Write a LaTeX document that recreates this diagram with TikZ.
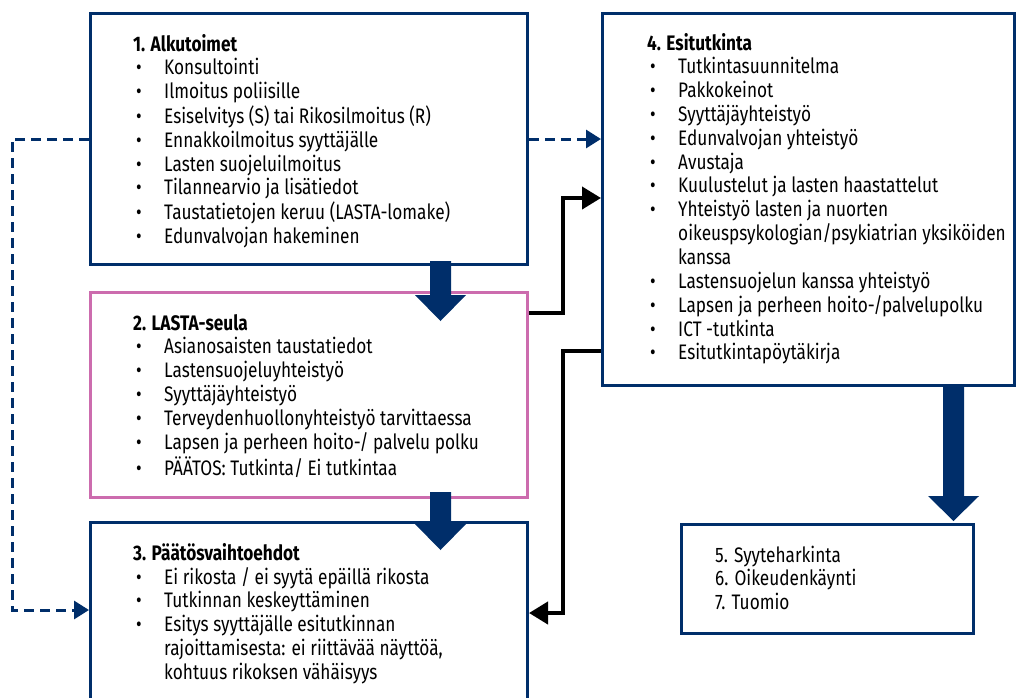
\documentclass[tikz,border=0pt]{standalone}
\usepackage{fontspec}
\setmainfont[FakeStretch=0.82]{Fira Sans}
\usetikzlibrary{arrows.meta}
\definecolor{navy}{RGB}{0,46,106}
\definecolor{pinkb}{RGB}{204,108,174}
\newcommand\bu{\makebox[31pt][l]{\hspace{3pt}\textbullet}}
\newcommand\sk{\makebox[31pt][l]{}}
\begin{document}
\begin{tikzpicture}[x=1pt,y=-1pt,
  box/.style={draw=navy,line width=3pt,minimum width=437pt,anchor=north west,inner sep=0pt},
  pinkbox/.style={box,draw=pinkb},
  txt/.style={anchor=base west,inner sep=0pt,font=\fontsize{21}{23.8}\selectfont},
  dashline/.style={draw=navy,line width=3pt,dash pattern=on 10pt off 6pt,-{Triangle[length=15pt,width=18pt]}},
  blackline/.style={draw=black,line width=4pt,-{Triangle[length=19pt,width=22pt]}},
  blockarrow/.style={fill=navy}]
\clip (0,0) rectangle (1029,697);
% boxes
\node[box,minimum height=251pt] (b1) at (89,12) {};
\node[pinkbox,minimum height=205pt] (b2) at (89,291) {};
\node[box,minimum height=220pt] (b3) at (89,521) {};
\node[box,minimum width=412pt,minimum height=372pt] (b4) at (601,12) {};
\node[box,minimum width=292pt,minimum height=109pt] (b5) at (680,523) {};
% texts
\node[txt] (t1) at (133,51) {\begin{tabular}[t]{@{}l@{}l@{}}
\multicolumn{2}{@{}l@{}}{\bfseries 1. Alkutoimet}\\
\bu & Konsultointi\\
\bu & Ilmoitus poliisille\\
\bu & Esiselvitys (S) tai Rikosilmoitus (R)\\
\bu & Ennakkoilmoitus syyttäjälle\\
\bu & Lasten suojeluilmoitus\\
\bu & Tilannearvio ja lisätiedot\\
\bu & Taustatietojen keruu (LASTA-lomake)\\
\bu & Edunvalvojan hakeminen
\end{tabular}};
\node[txt] (t2) at (133,330) {\begin{tabular}[t]{@{}l@{}l@{}}
\multicolumn{2}{@{}l@{}}{\bfseries 2. LASTA-seula}\\
\bu & Asianosaisten taustatiedot\\
\bu & Lastensuojeluyhteistyö\\
\bu & Syyttäjäyhteistyö\\
\bu & Terveydenhuollonyhteistyö tarvittaessa\\
\bu & Lapsen ja perheen hoito-/ palvelu polku\\
\bu & PÄÄTOS: Tutkinta/ Ei tutkintaa
\end{tabular}};
\node[txt] (t3) at (133,560) {\begin{tabular}[t]{@{}l@{}l@{}}
\multicolumn{2}{@{}l@{}}{\bfseries 3. Päätösvaihtoehdot}\\
\bu & Ei rikosta / ei syytä epäillä rikosta\\
\bu & Tutkinnan keskeyttäminen\\
\bu & Esitys syyttäjälle esitutkinnan\\
\sk & rajoittamisesta: ei riittävää näyttöä,\\
\sk & kohtuus rikoksen vähäisyys
\end{tabular}};
\node[txt] (t4) at (647,50) {\begin{tabular}[t]{@{}l@{}l@{}}
\multicolumn{2}{@{}l@{}}{\bfseries 4. Esitutkinta}\\
\bu & Tutkintasuunnitelma\\
\bu & Pakkokeinot\\
\bu & Syyttäjäyhteistyö\\
\bu & Edunvalvojan yhteistyö\\
\bu & Avustaja\\
\bu & Kuulustelut ja lasten haastattelut\\
\bu & Yhteistyö lasten ja nuorten\\
\sk & oikeuspsykologian/psykiatrian yksiköiden\\
\sk & kanssa\\
\bu & Lastensuojelun kanssa yhteistyö\\
\bu & Lapsen ja perheen hoito-/palvelupolku\\
\bu & ICT -tutkinta\\
\bu & Esitutkintapöytäkirja
\end{tabular}};
\node[txt] (t5) at (715,562) {\begin{tabular}[t]{@{}l@{}}
5. Syyteharkinta\\
6. Oikeudenkäynti\\
7. Tuomio
\end{tabular}};
% block arrows
\fill[blockarrow] (430,261) -- (451,261) -- (451,295) -- (466,295) -- (440.5,321) -- (415,295) -- (430,295) -- cycle;
\fill[blockarrow] (430,492) -- (451,492) -- (451,524) -- (466,524) -- (440.5,550) -- (415,524) -- (430,524) -- cycle;
\fill[blockarrow] (943,384) -- (964,384) -- (964,496) -- (979,496) -- (953.5,521) -- (928,496) -- (943,496) -- cycle;
% connectors
\draw[dashline] (b1.east |- 0,139) -- (b4.west |- 0,139);
\draw[dashline] (b1.west |- 0,139) -- (12,139) -- (12,610) -- (b3.west |- 0,610);
\draw[blackline] (b2.east |- 0,313) -- (563,313) -- (563,198) -- (b4.west |- 0,198);
\draw[blackline] (b4.west |- 0,351) -- (563,351) -- (563,613) -- (b3.east |- 0,613);
\end{tikzpicture}
\end{document}
